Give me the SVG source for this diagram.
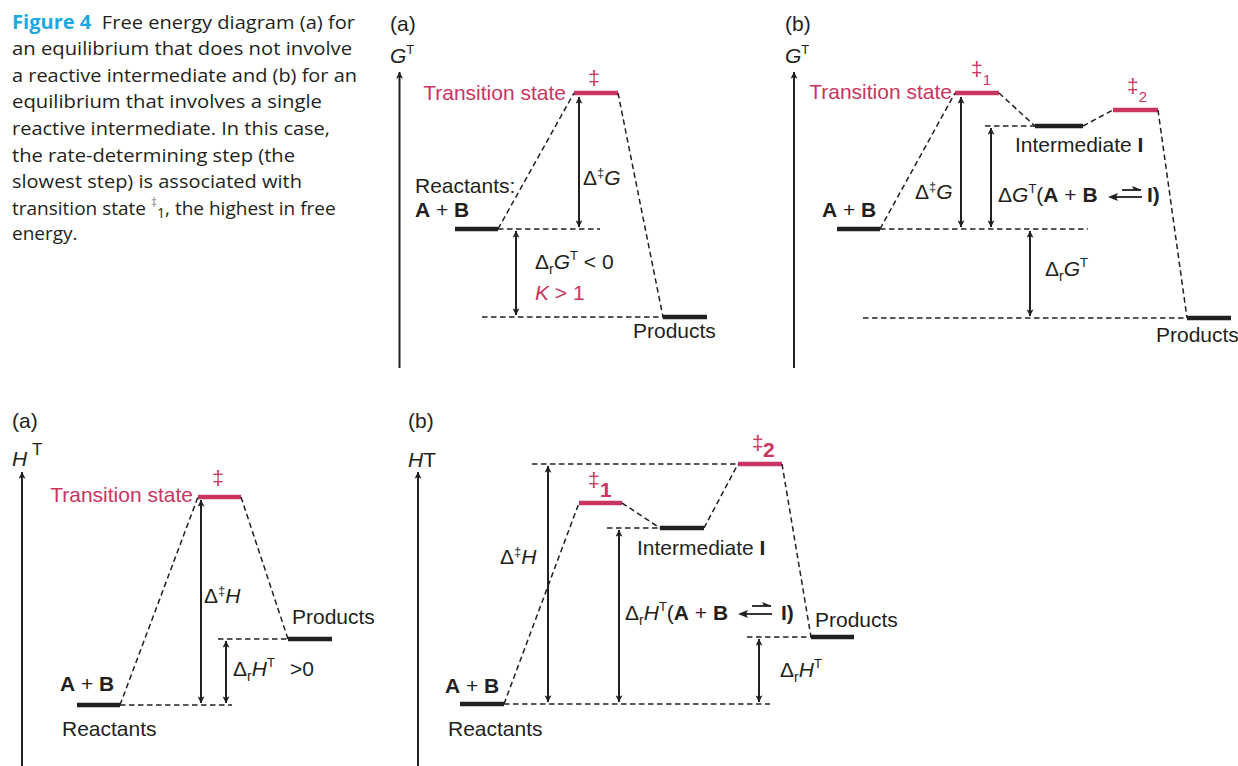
<svg xmlns="http://www.w3.org/2000/svg" width="1238" height="766" viewBox="0 0 1238 766">
<defs>
<style>
.t{font-family:"Liberation Sans",Arial,sans-serif;font-size:21px;fill:#231f20}
.pk{fill:#c93460}
.cap{font-family:"Open Sans","Noto Sans",sans-serif;font-size:19px;fill:#231f20}
.fig{fill:#1ca9e1;font-weight:bold}
.lv{stroke:#231f20;stroke-width:4.5;fill:none}
.lvp{stroke:#c93460;stroke-width:4.5;fill:none}
.dash{stroke:#231f20;stroke-width:1.5;stroke-dasharray:5.5 3.5;fill:none}
.arr{stroke:#231f20;stroke-width:2;fill:none;marker-start:url(#ah);marker-end:url(#ah)}
.axis{stroke:#231f20;stroke-width:2;fill:none;marker-end:url(#ah)}
.harp{stroke:#231f20;stroke-width:1.8;fill:none}
.b{font-weight:bold}
.i{font-style:italic}
</style>
<marker id="ah" viewBox="0 0 10 10" refX="9.5" refY="5" markerWidth="11" markerHeight="7" markerUnits="userSpaceOnUse" orient="auto-start-reverse">
<path d="M0,0 L10,5 L0,10 L2.5,5 z" fill="#231f20"/>
</marker>
</defs>
<rect width="1238" height="766" fill="#ffffff"/>

<g id="caption">
<text class="cap" x="12" y="29" textLength="343" lengthAdjust="spacingAndGlyphs"><tspan class="fig">Figure 4</tspan><tspan dx="10">Free energy diagram (a) for</tspan></text>
<text class="cap" x="12" y="55" textLength="340" lengthAdjust="spacingAndGlyphs">an equilibrium that does not involve</text>
<text class="cap" x="12" y="82" textLength="345" lengthAdjust="spacingAndGlyphs">a reactive intermediate and (b) for an</text>
<text class="cap" x="12" y="108" textLength="310" lengthAdjust="spacingAndGlyphs">equilibrium that involves a single</text>
<text class="cap" x="12" y="135" textLength="318" lengthAdjust="spacingAndGlyphs">reactive intermediate. In this case,</text>
<text class="cap" x="12" y="162" textLength="283" lengthAdjust="spacingAndGlyphs">the rate-determining step (the</text>
<text class="cap" x="12" y="188" textLength="290" lengthAdjust="spacingAndGlyphs">slowest step) is associated with</text>
<text class="cap" x="12" y="215">transition state <tspan font-size="12" fill="#8a8a8a" dy="-8">‡</tspan><tspan font-size="14" dy="11">1</tspan><tspan dy="-3">, the highest in free</tspan></text>
<text class="cap" x="12" y="240">energy.</text>
</g>

<!-- Panel top-left (a) free energy -->
<g id="panelGa">
<text class="t" x="390" y="31" font-size="20">(a)</text>
<text class="t" x="390" y="63"><tspan class="i">G</tspan><tspan font-size="13" dy="-9">T</tspan></text>
<g id="Ga-ts"><line class="lvp" x1="574" y1="93" x2="618" y2="93"/>
<text class="t pk" x="566" y="100" text-anchor="end">Transition state</text>
<text class="t pk" x="594" y="85" font-size="19" text-anchor="middle">‡</text></g>
<g id="Ga-reactants"><line class="lv" x1="455" y1="229" x2="498" y2="229"/>
<text class="t" x="415" y="193">Reactants:</text>
<text class="t" x="415" y="217"><tspan class="b">A</tspan> + <tspan class="b">B</tspan></text></g>
<g id="Ga-products"><line class="lv" x1="663" y1="317" x2="707" y2="317"/>
<text class="t" x="633" y="338">Products</text></g>
<text class="t" x="583" y="185">Δ<tspan font-size="13" dy="-8">‡</tspan><tspan class="i" dy="8">G</tspan></text>
<text class="t" x="535" y="269">Δ<tspan font-size="14" dy="5">r</tspan><tspan class="i" dy="-5">G</tspan><tspan font-size="13" dy="-9">T</tspan><tspan dy="9"> &lt; 0</tspan></text>
<text class="t pk" x="535" y="300"><tspan class="i">K</tspan> &gt; 1</text>
</g>

<!-- Panel top-right (b) free energy -->
<g id="panelGb">
<text class="t" x="785" y="31" font-size="20">(b)</text>
<text class="t" x="785" y="63"><tspan class="i">G</tspan><tspan font-size="13" dy="-9">T</tspan></text>
<g id="Gb-ts1"><line class="lvp" x1="955" y1="93" x2="999" y2="93"/>
<text class="t pk" x="952" y="99" text-anchor="end">Transition state</text>
<text class="t pk" x="971" y="76" font-size="19">‡<tspan font-size="15" dy="9">1</tspan></text></g>
<g id="Gb-int"><line class="lv" x1="1035" y1="126" x2="1083" y2="126"/>
<text class="t" x="1015" y="152">Intermediate <tspan class="b">I</tspan></text></g>
<g id="Gb-ts2"><line class="lvp" x1="1113" y1="110" x2="1158" y2="110"/>
<text class="t pk" x="1127" y="93" font-size="19">‡<tspan font-size="15" dy="9">2</tspan></text></g>
<g id="Gb-reactants"><line class="lv" x1="837" y1="229" x2="880" y2="229"/>
<text class="t" x="822" y="217"><tspan class="b">A</tspan> + <tspan class="b">B</tspan></text></g>
<g id="Gb-products"><line class="lv" x1="1187" y1="318" x2="1231" y2="318"/>
<text class="t" x="1156" y="342">Products</text></g>
<text class="t" x="915" y="199">Δ<tspan font-size="13" dy="-8">‡</tspan><tspan class="i" dy="8">G</tspan></text>
<text class="t" x="998" y="202">Δ<tspan class="i">G</tspan><tspan font-size="13" dy="-9">T</tspan><tspan dy="9">(</tspan><tspan class="b">A</tspan> + <tspan class="b">B</tspan></text>
<text class="t" x="1147" y="202"><tspan class="b">I)</tspan></text>
<text class="t" x="1045" y="276">Δ<tspan font-size="14" dy="5">r</tspan><tspan class="i" dy="-5">G</tspan><tspan font-size="13" dy="-9">T</tspan></text>
</g>

<!-- Panel bottom-left (a) enthalpy -->
<g id="panelHa">
<text class="t" x="12" y="428" font-size="20">(a)</text>
<text class="t" x="12" y="466"><tspan class="i">H</tspan><tspan font-size="17" x="32" y="455">T</tspan></text>
<g id="Ha-ts"><line class="lvp" x1="198" y1="497" x2="241" y2="497"/>
<text class="t pk" x="193" y="502" text-anchor="end">Transition state</text>
<text class="t pk" x="218" y="485" font-size="19" text-anchor="middle">‡</text></g>
<g id="Ha-reactants"><line class="lv" x1="77" y1="705" x2="120" y2="705"/>
<text class="t" x="60" y="691"><tspan class="b">A</tspan> + <tspan class="b">B</tspan></text>
<text class="t" x="62" y="736">Reactants</text></g>
<g id="Ha-products"><line class="lv" x1="288" y1="639" x2="332" y2="639"/>
<text class="t" x="292" y="624">Products</text></g>
<text class="t" x="204" y="603">Δ<tspan font-size="13" dy="-8">‡</tspan><tspan class="i" dy="8">H</tspan></text>
<text class="t" x="233" y="676">Δ<tspan font-size="14" dy="5">r</tspan><tspan class="i" dy="-5">H</tspan><tspan font-size="13" dy="-9">T</tspan></text>
<text class="t" x="290" y="676">&gt;0</text>
</g>

<!-- Panel bottom-right (b) enthalpy -->
<g id="panelHb">
<text class="t" x="408" y="428" font-size="20">(b)</text>
<text class="t" x="408" y="467"><tspan class="i">H</tspan>T</text>
<g id="Hb-ts1"><line class="lvp" x1="579" y1="503" x2="622" y2="503"/>
<text class="t pk" x="588" y="487" font-size="18">‡</text>
<text class="t pk b" x="600" y="497">1</text></g>
<g id="Hb-int"><line class="lv" x1="660" y1="528" x2="704" y2="528"/>
<text class="t" x="637" y="555">Intermediate <tspan class="b">I</tspan></text></g>
<g id="Hb-ts2"><line class="lvp" x1="738" y1="464" x2="782" y2="464"/>
<text class="t pk" x="752" y="450" font-size="18">‡</text>
<text class="t pk b" x="763" y="457">2</text></g>
<g id="Hb-reactants"><line class="lv" x1="460" y1="704" x2="504" y2="704"/>
<text class="t" x="445" y="693"><tspan class="b">A</tspan> + <tspan class="b">B</tspan></text>
<text class="t" x="448" y="736">Reactants</text></g>
<g id="Hb-products"><line class="lv" x1="811" y1="637" x2="854" y2="637"/>
<text class="t" x="815" y="627">Products</text></g>
<text class="t" x="500" y="564">Δ<tspan font-size="13" dy="-8">‡</tspan><tspan class="i" dy="8">H</tspan></text>
<text class="t" x="625" y="620">Δ<tspan font-size="14" dy="5">r</tspan><tspan class="i" dy="-5">H</tspan><tspan font-size="13" dy="-9">T</tspan><tspan dy="9">(</tspan><tspan class="b">A</tspan> + <tspan class="b">B</tspan></text>
<text class="t" x="781" y="620"><tspan class="b">I)</tspan></text>
<text class="t" x="780" y="677">Δ<tspan font-size="14" dy="5">r</tspan><tspan class="i" dy="-5">H</tspan><tspan font-size="13" dy="-9">T</tspan></text>
</g>

<g id="connectors">
<!-- axes -->
<line class="axis" x1="399.5" y1="368" x2="399.5" y2="72"/>
<line class="axis" x1="794" y1="368" x2="794" y2="72"/>
<line class="axis" x1="22" y1="766" x2="22" y2="472"/>
<line class="axis" x1="418" y1="766" x2="418" y2="472"/>
<!-- top-left dashed -->
<line class="dash" x1="498" y1="229" x2="574" y2="93"/>
<line class="dash" x1="618" y1="93" x2="663" y2="317"/>
<line class="dash" x1="498" y1="229" x2="600" y2="229"/>
<line class="dash" x1="482" y1="317" x2="663" y2="317"/>
<line class="arr" x1="579" y1="97" x2="579" y2="227"/>
<line class="arr" x1="516" y1="231" x2="516" y2="315"/>
<!-- top-right dashed -->
<line class="dash" x1="880" y1="229" x2="955" y2="93"/>
<line class="dash" x1="999" y1="93" x2="1035" y2="126"/>
<line class="dash" x1="1083" y1="126" x2="1113" y2="110"/>
<line class="dash" x1="1158" y1="110" x2="1187" y2="318"/>
<line class="dash" x1="880" y1="229" x2="1088" y2="229"/>
<line class="dash" x1="985" y1="126" x2="1035" y2="126"/>
<line class="dash" x1="863" y1="318" x2="1187" y2="318"/>
<line class="arr" x1="961" y1="97" x2="961" y2="227"/>
<line class="arr" x1="991" y1="128" x2="991" y2="227"/>
<line class="arr" x1="1030" y1="231" x2="1030" y2="316"/>
<!-- top-right equilibrium harpoons -->
<path class="harp" d="M1122,190 H1141"/>
<path d="M1142,190 L1132,186 L1134,190 z" fill="#231f20"/>
<path class="harp" d="M1111,197 H1142"/>
<path d="M1108,197 L1118,193 L1116,197 L1118,201 z" fill="#231f20"/>
<!-- bottom-left dashed -->
<line class="dash" x1="120" y1="705" x2="198" y2="497"/>
<line class="dash" x1="241" y1="497" x2="288" y2="639"/>
<line class="dash" x1="120" y1="705" x2="232" y2="705"/>
<line class="dash" x1="218" y1="639" x2="288" y2="639"/>
<line class="arr" x1="201" y1="500" x2="201" y2="703"/>
<line class="arr" x1="226" y1="641" x2="226" y2="703"/>
<!-- bottom-right dashed -->
<line class="dash" x1="504" y1="704" x2="579" y2="503"/>
<line class="dash" x1="622" y1="503" x2="660" y2="528"/>
<line class="dash" x1="704" y1="528" x2="738" y2="464"/>
<line class="dash" x1="782" y1="464" x2="811" y2="637"/>
<line class="dash" x1="504" y1="704" x2="770" y2="704"/>
<line class="dash" x1="532" y1="464" x2="738" y2="464"/>
<line class="dash" x1="607" y1="528" x2="660" y2="528"/>
<line class="dash" x1="747" y1="637" x2="811" y2="637"/>
<line class="arr" x1="548" y1="466" x2="548" y2="702"/>
<line class="arr" x1="619" y1="530" x2="619" y2="702"/>
<line class="arr" x1="759" y1="639" x2="759" y2="702"/>
<!-- bottom-right equilibrium harpoons -->
<path class="harp" d="M752,606 H771"/>
<path d="M772,606 L762,602 L764,606 z" fill="#231f20"/>
<path class="harp" d="M741,614 H772"/>
<path d="M738,614 L748,610 L746,614 L748,618 z" fill="#231f20"/>
</g>
</svg>
